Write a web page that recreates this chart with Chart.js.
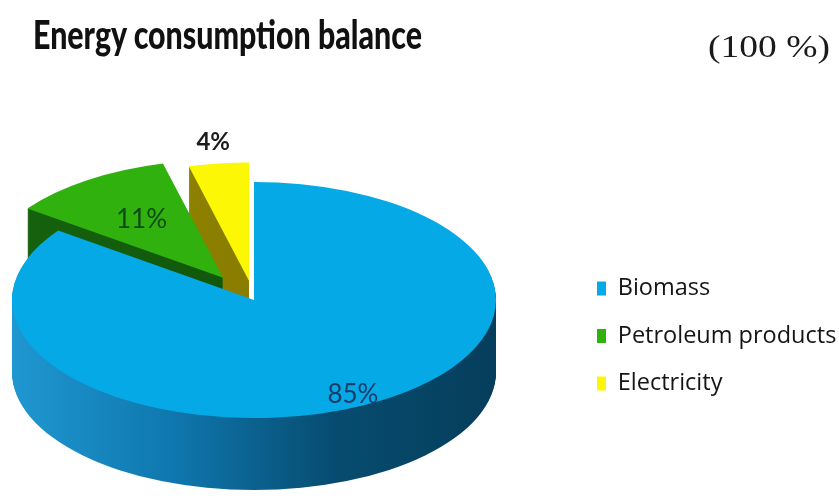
<!DOCTYPE html>
<html>
<head>
<meta charset="utf-8">
<title>Energy consumption balance</title>
<script src="https://cdn.jsdelivr.net/npm/chart.js@4.4.1/dist/chart.umd.min.js"></script>
<style>
  html, body { margin: 0; padding: 0; background: #fff; }
  #wrap { position: relative; width: 839px; height: 499px; overflow: hidden; }
  #box { position: absolute; left: 0; top: 0; width: 839px; height: 499px; }
  .head { position: absolute; white-space: nowrap; color: #111; transform-origin: 0 0; }
  #title { left: 33px; top: 15px; font: 900 39px/39px Lato, sans-serif; }
  #sub { left: 708px; top: 30px; font: 400 32px/32px "Liberation Serif", serif; color: #1a1a1a; }
</style>
</head>
<body>
<div id="wrap">
  <div id="box"><canvas id="pieChart"></canvas></div>
  <div class="head" id="title" data-w="389">Energy consumption balance</div>
  <div class="head" id="sub" data-w="122">(100 %)</div>
</div>
<script>
const categories = ['Biomass', 'Petroleum products', 'Electricity'];
const shares = [85, 11, 4];

const faceColors = ['#04a9e5', '#31b10e', '#fbf705'];
const wallColors = [
  ['#1f97d1', '#0f77ae', '#074c70', '#053e5b'],
  ['#16620e', '#0b4a07'],
  ['#9a8d00', '#776b00']
];
const labelColors = ['#1b3b6b', '#0b4a10', '#1c1c1c'];
const labelFonts = ['400 26px Lato', '400 26px Lato', '700 24px Lato'];

// tilted pie: squash the disc, stack darker copies underneath for the wall,
// push the small slices out, then write the percentages on top
const pie3d = {
  id: 'pie3d',
  afterLayout(chart, args, opts) {
    // let the disc use some of the empty left margin
    chart.chartArea.left -= opts.bleed;
    chart.chartArea.width += opts.bleed;
  },
  beforeDatasetsDraw(chart, args, opts) {
    const ctx = chart.ctx;
    const arcs = chart.getDatasetMeta(0).data;
    const k = opts.tilt;
    const depth = opts.depth;
    const cx = arcs[0].x;
    const cy = arcs[0].y;
    const faceY = cy - depth / 2;

    const shiftOf = (arc, i) => {
      const mid = (arc.startAngle + arc.endAngle) / 2;
      const d = opts.explode[i] || 0;
      return { dx: Math.cos(mid) * d, dy: Math.sin(mid) * d, mid };
    };

    const tilted = (lift) => {
      ctx.translate(0, faceY + lift);
      ctx.scale(1, k);
      ctx.translate(0, -cy);
    };

    const wedge = (arc, dx, dy) => {
      ctx.beginPath();
      ctx.moveTo(arc.x + dx, arc.y + dy);
      ctx.arc(arc.x + dx, arc.y + dy, arc.outerRadius, arc.startAngle, arc.endAngle);
      ctx.closePath();
    };

    // back slices first, the big one last so its face covers their walls
    for (let i = arcs.length - 1; i >= 0; i--) {
      const arc = arcs[i];
      const { dx, dy } = shiftOf(arc, i);
      const r = arc.outerRadius;
      const grad = ctx.createLinearGradient(cx - r, 0, cx + r, 0);
      const stops = wallColors[i];
      stops.forEach((c, j) => grad.addColorStop(j / (stops.length - 1), c));

      for (let h = depth; h > 0; h--) {
        ctx.save();
        tilted(h);
        ctx.fillStyle = grad;
        wedge(arc, dx, dy);
        ctx.fill();
        ctx.restore();
      }

      ctx.save();
      tilted(0);
      ctx.translate(dx, dy);
      arc.draw(ctx);
      ctx.restore();
    }

    // percentage labels, placed along each slice's middle angle
    ctx.save();
    ctx.textAlign = 'center';
    ctx.textBaseline = 'middle';
    arcs.forEach((arc, i) => {
      const { dx, dy, mid } = shiftOf(arc, i);
      const f = opts.labelAt[i];
      const px = arc.x + dx + Math.cos(mid) * arc.outerRadius * f;
      const py = arc.y + dy + Math.sin(mid) * arc.outerRadius * f;
      ctx.font = labelFonts[i];
      ctx.fillStyle = labelColors[i];
      ctx.fillText(shares[i] + '%', px, faceY + (py - cy) * k);
    });
    ctx.restore();

    return false;
  }
};

function draw() {
  // heading text is set in a narrow box: stretch each part to its width
  document.querySelectorAll('.head').forEach(el => {
    el.style.transform = 'scaleX(' + (el.dataset.w / el.offsetWidth) + ')';
  });

  new Chart(document.getElementById('pieChart'), {
    type: 'pie',
    data: {
      labels: categories,
      datasets: [{
        data: shares,
        backgroundColor: faceColors,
        borderWidth: 0,
        offset: 0
      }]
    },
    options: {
      responsive: true,
      maintainAspectRatio: false,
      animation: false,
      events: [],
      radius: 242,
      layout: {
        padding: { top: 173, left: 0, right: 3, bottom: 0 }
      },
      plugins: {
        title: { display: false },
        tooltip: { enabled: false },
        legend: {
          display: true,
          position: 'right',
          align: 'center',
          maxWidth: 263,
          labels: {
            boxWidth: 9,
            boxHeight: 14,
            padding: 24,
            color: '#151515',
            font: { family: '"Open Sans", sans-serif', size: 23.5 }
          }
        },
        pie3d: {
          bleed: 65,
          tilt: 0.488,
          depth: 72,
          explode: [0, 55, 40],
          labelAt: [0.9, 0.6, 1.18]
        }
      }
    },
    plugins: [pie3d]
  });
}

Promise.all([
  document.fonts.load('23.5px "Open Sans"'),
  document.fonts.load('900 39px Lato'),
  document.fonts.load('26px Lato'),
  document.fonts.load('700 24px Lato'),
  document.fonts.load('32px "Liberation Serif"')
]).then(draw, draw);
</script>
</body>
</html>
